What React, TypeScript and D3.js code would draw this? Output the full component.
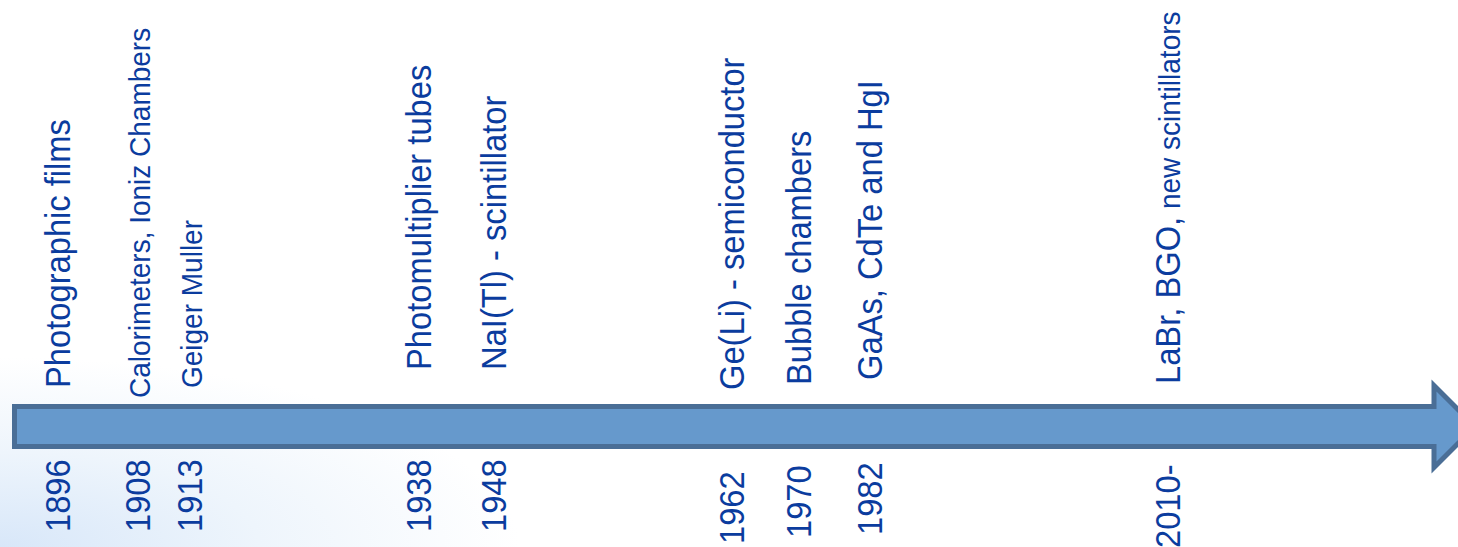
import React from "react";
import * as d3 from "d3";

// ---- data ----
const years = ["1896", "1908", "1913", "1938", "1948", "1962", "1970", "1982", "2010-"];
const eventMain = [
  "Photographic films",
  "Calorimeters, Ioniz Chambers",
  "Geiger Muller",
  "Photomultiplier tubes",
  "NaI(Tl) - scintillator",
  "Ge(Li) - semiconductor",
  "Bubble chambers",
  "GaAs, CdTe and HgI",
  "LaBr, BGO,",
];
const eventSuffix = ["", "", "", "", "", "", "", "", "new scintillators"];

// ---- layout (not data) ----
const W = 1458;
const H = 547;
const colX = [70, 150, 202, 431, 506, 744, 811, 882, 1180];
const labelStartY = [388, 398, 388, 370, 370, 390, 385, 380, 384];
const yearStartY = [532, 532, 532, 532, 532, 544, 538, 535, 548];
const smallLabels = new Set(["1908", "1913"]);
const BIG = 32.7;
const SMALL = 28;
const STRETCH = 1.07;
const TEXT = "#0B3C9E";

const xOf = d3.scaleOrdinal<string, number>().domain(years).range(colX);
const labelY = d3.scaleOrdinal<string, number>().domain(years).range(labelStartY);
const yearY = d3.scaleOrdinal<string, number>().domain(years).range(yearStartY);

// arrow geometry
const arrowLeft = 14.5;
const headStart = 1434;
const bodyTop = 406.5;
const bodyBottom = 446.5;
const headTop = 385.5;
const headBottom = 467.5;
const midY = (bodyTop + bodyBottom) / 2;
const tipX = headStart + (headBottom - headTop) / 2;

export default function App() {
  const arrowPath = d3.path();
  arrowPath.moveTo(arrowLeft, bodyTop);
  arrowPath.lineTo(headStart, bodyTop);
  arrowPath.lineTo(headStart, headTop);
  arrowPath.lineTo(tipX, midY);
  arrowPath.lineTo(headStart, headBottom);
  arrowPath.lineTo(headStart, bodyBottom);
  arrowPath.lineTo(arrowLeft, bodyBottom);
  arrowPath.closePath();

  const font = "'Liberation Sans', Arial, sans-serif";

  return (
    <svg
      width={W}
      height={H}
      style={{ position: "absolute", left: 0, top: 0, display: "block" }}
    >
      <defs>
        <radialGradient
          id="bg"
          cx={0}
          cy={0}
          r={1}
          gradientUnits="userSpaceOnUse"
          gradientTransform={`translate(0,${H}) scale(520,190)`}
        >
          <stop offset="0" stopColor="#D8E7F9" />
          <stop offset="0.5" stopColor="#EEF5FC" />
          <stop offset="1" stopColor="#FFFFFF" />
        </radialGradient>
      </defs>
      <rect x={0} y={0} width={W} height={H} fill="#FFFFFF" />
      <rect x={0} y={0} width={W} height={H} fill="url(#bg)" />
      <path
        d={arrowPath.toString()}
        fill="#6699CC"
        stroke="#4A6E96"
        strokeWidth={5}
        strokeLinejoin="miter"
      />
      {years.map((yr, i) => {
        const small = smallLabels.has(yr);
        const size = small ? SMALL : BIG;
        return (
          <g key={yr} fontFamily={font} fill={TEXT}>
            <text
              transform={`translate(${xOf(yr)},${labelY(yr)}) rotate(-90) scale(1,${STRETCH})`}
              fontSize={size}
            >
              {eventMain[i]}
              {eventSuffix[i] ? (
                <tspan fontSize={SMALL}>{" " + eventSuffix[i]}</tspan>
              ) : null}
            </text>
            <text
              transform={`translate(${xOf(yr)},${yearY(yr)}) rotate(-90) scale(1,${STRETCH})`}
              fontSize={BIG}
            >
              {yr}
            </text>
          </g>
        );
      })}
    </svg>
  );
}
